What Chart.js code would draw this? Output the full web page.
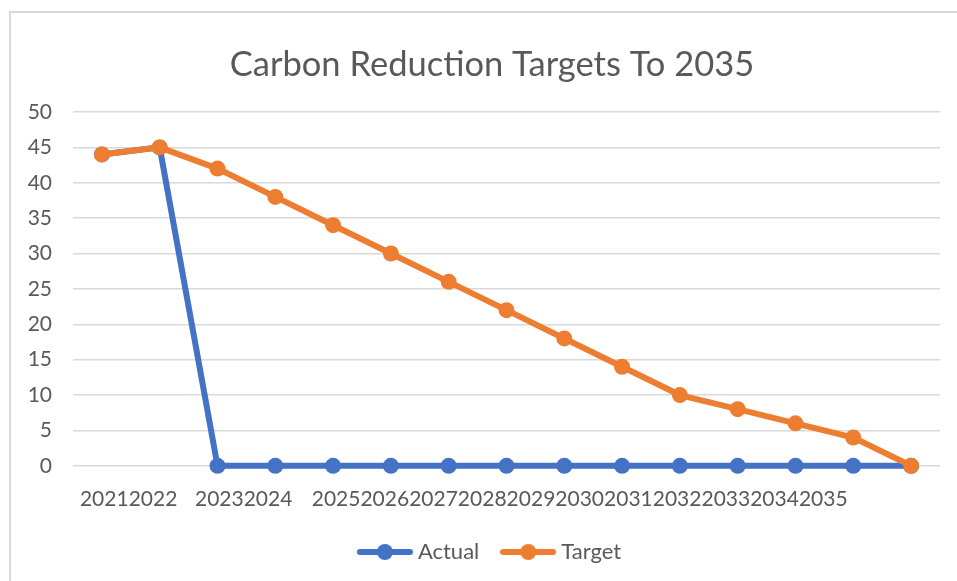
<!DOCTYPE html>
<html>
<head>
<meta charset="utf-8">
<script src="https://cdn.jsdelivr.net/npm/chart.js@4"></script>
<style>
  html, body { margin: 0; padding: 0; background: #fff; }
  #wrap { position: relative; width: 957px; height: 581px; overflow: hidden; }
  #frame { position: absolute; left: 9px; top: 11px; width: 1000px; height: 700px; border: 2px solid #d9d9d9; }
  #myChart { position: absolute; left: 0; top: 0; }
</style>
</head>
<body>
<div id="wrap">
  <div id="frame"></div>
  <canvas id="myChart" width="957" height="581"></canvas>
</div>
<script>
const years = ['2021', '2022', '2023', '2024', '2025', '2026', '2027', '2028',
    '2029', '2030', '2031', '2032', '2033', '2034', '2035'];
const actual = [44, 45, 0, 0, 0, 0, 0, 0, 0, 0, 0, 0, 0, 0, 0];
const target = [44, 45, 42, 38, 34, 30, 26, 22, 18, 14, 10, 8, 6, 4, 0];
// the axis text as it shows up in the original, run together in three groups
const xTickText = ['20212022', '20232024', '20252026202720282029203020312032203320342035'];
const yTicks = [0, 5, 10, 15, 20, 25, 30, 35, 40, 45, 50];

// where each group of axis text starts, in category steps
const xTickStart = [-0.38, 1.61, 3.63];

const grey = '#595959';
const blue = '#4472C4';
const orange = '#ED7D31';
const fontFamily = 'Lato, "Open Sans", sans-serif';

function legendMarker(color) {
    const c = document.createElement('canvas');
    c.width = 56;
    c.height = 18;
    const g = c.getContext('2d');
    g.strokeStyle = color;
    g.lineWidth = 6;
    g.lineCap = 'round';
    g.beginPath();
    g.moveTo(3, 9);
    g.lineTo(53, 9);
    g.stroke();
    g.fillStyle = color;
    g.beginPath();
    g.arc(28, 9, 8, 0, Math.PI * 2);
    g.fill();
    return c;
}

const markers = { Actual: legendMarker(blue), Target: legendMarker(orange) };

const ctx = document.getElementById('myChart').getContext('2d');
const myChart = new Chart(ctx, {
    type: 'line',
    data: {
        labels: years,
        datasets: [{
            label: 'Actual',
            data: actual,
            borderColor: blue,
            backgroundColor: blue,
            borderWidth: 6,
            pointRadius: 8,
            pointBorderWidth: 0,
            tension: 0,
            clip: 12,
            order: 1
        }, {
            label: 'Target',
            data: target,
            borderColor: orange,
            backgroundColor: orange,
            borderWidth: 6,
            pointRadius: 8,
            pointBorderWidth: 0,
            tension: 0,
            clip: 12,
            order: 0
        }]
    },
    options: {
        responsive: false,
        animation: false,
        events: [],
        layout: {
            padding: { left: 27, right: 0, top: 0, bottom: 8 }
        },
        scales: {
            x: {
                type: 'category',
                offset: true,
                display: false
            },
            x2: {
                type: 'linear',
                position: 'bottom',
                min: -0.5,
                max: 14.5,
                grid: { display: false },
                border: { display: false },
                afterBuildTicks: (scale) => {
                    scale.ticks = xTickStart.map(v => ({ value: v }));
                },
                afterFit: (scale) => {
                    scale.height -= 11;
                },
                ticks: {
                    autoSkip: false,
                    maxRotation: 0,
                    minRotation: 0,
                    align: 'start',
                    padding: 13,
                    color: grey,
                    font: { family: fontFamily, size: 21 },
                    callback: (value, index) => xTickText[index]
                }
            },
            y: {
                min: 0,
                max: 50,
                afterBuildTicks: (scale) => {
                    scale.ticks = yTicks.map(v => ({ value: v }));
                },
                afterFit: (scale) => {
                    scale.width = 46;
                },
                grid: {
                    color: '#d9d9d9',
                    lineWidth: 1.5,
                    drawTicks: false
                },
                border: { display: false },
                ticks: {
                    padding: 21,
                    color: grey,
                    font: { family: fontFamily, size: 21 }
                }
            },
            // empty strip on the right so the plot stops short of the edge
            yRight: {
                type: 'linear',
                position: 'right',
                grid: { display: false },
                border: { display: false },
                ticks: { display: false },
                afterFit: (scale) => {
                    scale.width = 17;
                }
            }
        },
        plugins: {
            tooltip: { enabled: false },
            title: {
                display: true,
                text: 'Carbon Reduction Targets To 2035',
                color: grey,
                font: { family: fontFamily, size: 34.5, weight: 'normal' },
                padding: { top: 44, bottom: 26.6 }
            },
            legend: {
                position: 'bottom',
                labels: {
                    usePointStyle: true,
                    pointStyleWidth: 44,
                    boxHeight: 18,
                    padding: 27,
                    color: grey,
                    font: { family: fontFamily, size: 22 },
                    generateLabels: (chart) => {
                        const items = Chart.defaults.plugins.legend.labels.generateLabels(chart);
                        items.sort((a, b) => a.datasetIndex - b.datasetIndex);
                        items.forEach(item => {
                            item.pointStyle = markers[item.text];
                            item.lineWidth = 0;
                        });
                        return items;
                    }
                }
            }
        }
    }
});
</script>
</body>
</html>
